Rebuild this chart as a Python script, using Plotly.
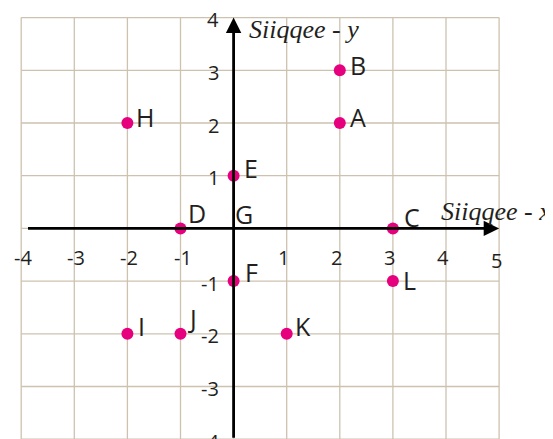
import plotly.graph_objects as go

# tick values on each axis
x_ticks = [-4, -3, -2, -1, 1, 2, 3, 4, 5]
y_ticks = [-4, -3, -2, -1, 1, 2, 3, 4]
grid_x = [-4, -3, -2, -1, 0, 1, 2, 3, 4, 5]
grid_y = [-4, -3, -2, -1, 0, 1, 2, 3, 4]

# labelled points
names = ["A", "B", "C", "D", "E", "F", "H", "I", "J", "K", "L"]
px = [2, 2, 3, -1, 0, 0, -2, -2, -1, 1, 3]
py = [2, 3, 0, 0, 1, -1, 2, -2, -2, -2, -1]
# origin label (no dot)
origin_name = "G"

PINK = "#e6007e"
GRID = "#cdc2b0"
TEXT = "#231f20"

# the page body adds an 8px margin, so the figure starts at (8, 8) in the window;
# size it to fill the rest of the 553x439 window without overflowing
W, H = 545, 431
X0, Y0, SX, SY = 225.6, 220.4, 53.1, 52.7
x_range = [-X0 / SX, (W - X0) / SX]
y_range = [(Y0 - H) / SY, Y0 / SY]

fig = go.Figure()

# grid lines, only across the drawn square
gx, gy = [], []
for v in grid_x:
    gx += [v, v, None]
    gy += [grid_y[0], grid_y[-1], None]
for v in grid_y:
    gx += [grid_x[0], grid_x[-1], None]
    gy += [v, v, None]
fig.add_trace(go.Scatter(x=gx, y=gy, mode="lines", line=dict(color=GRID, width=1.3),
                         hoverinfo="skip", showlegend=False, cliponaxis=False))

# axis lines with arrows
fig.add_annotation(x=grid_x[-1], y=0, ax=-3.9, ay=0, axref="x", ayref="y", text="",
                   showarrow=True, arrowhead=2, arrowsize=1.1, arrowwidth=2.8, arrowcolor="black", standoff=0)
fig.add_annotation(x=0, y=grid_y[-1], ax=0, ay=grid_y[0], axref="x", ayref="y", text="",
                   showarrow=True, arrowhead=2, arrowsize=1.1, arrowwidth=2.8, arrowcolor="black", standoff=0)

# points
fig.add_trace(go.Scatter(x=px, y=py, mode="markers", marker=dict(color=PINK, size=12),
                         hoverinfo="skip", showlegend=False))

# point labels (pixel offsets from the dot)
dx = [8, 8, 9, 5, 8, 9, 7, 9, 5, 6, 8]
dy = [6, 5, 11, 15, 8, 9, 6, 8, 16, 8, 1]
for n, x, y, a, b in zip(names, px, py, dx, dy):
    fig.add_annotation(x=x, y=y, text=n, showarrow=False, xanchor="left", yanchor="middle",
                       xshift=a, yshift=b, font=dict(family="Open Sans", size=25, color=TEXT))
fig.add_annotation(x=0, y=0, text=origin_name, showarrow=False, xanchor="left", yanchor="middle",
                   xshift=-1, yshift=14, font=dict(family="Open Sans", size=25, color=TEXT))

# tick labels
for v in x_ticks:
    fig.add_annotation(x=v, y=0, text=str(v), showarrow=False,
                       xanchor="center", yanchor="middle", xshift=2 if v < 0 else -3,
                       yshift=-29 if v < 5 else -32,
                       font=dict(family="Open Sans", size=20, color=TEXT))
for v in y_ticks:
    # annotations whose anchor falls outside the range are hidden, so keep the
    # anchor inside and move the text by the difference in pixels
    pos = min(max(v, y_range[0] + 0.01), y_range[1] - 0.01)
    fig.add_annotation(x=0, y=pos, text=str(v), showarrow=False,
                       xanchor="right", yanchor="middle", xshift=-13,
                       yshift=-2 - (pos - v) * SY,
                       font=dict(family="Open Sans", size=20, color=TEXT))

# axis titles
fig.add_annotation(x=0.26, y=3.78, text="<i>Siiqqee - y</i>", showarrow=False,
                   xanchor="left", yanchor="middle",
                   font=dict(family="Liberation Serif", size=26, color=TEXT))
fig.add_annotation(x=3.87, y=0.33, text="<i>Siiqqee - x</i>", showarrow=False,
                   xanchor="left", yanchor="middle",
                   font=dict(family="Liberation Serif", size=26, color=TEXT))

fig.update_layout(
    width=W, height=H,
    margin=dict(l=0, r=0, t=0, b=0),
    paper_bgcolor="white", plot_bgcolor="white",
    xaxis=dict(range=x_range, visible=False, fixedrange=True),
    yaxis=dict(range=y_range, visible=False, fixedrange=True),
    showlegend=False,
)

fig.write_html("out.html")
